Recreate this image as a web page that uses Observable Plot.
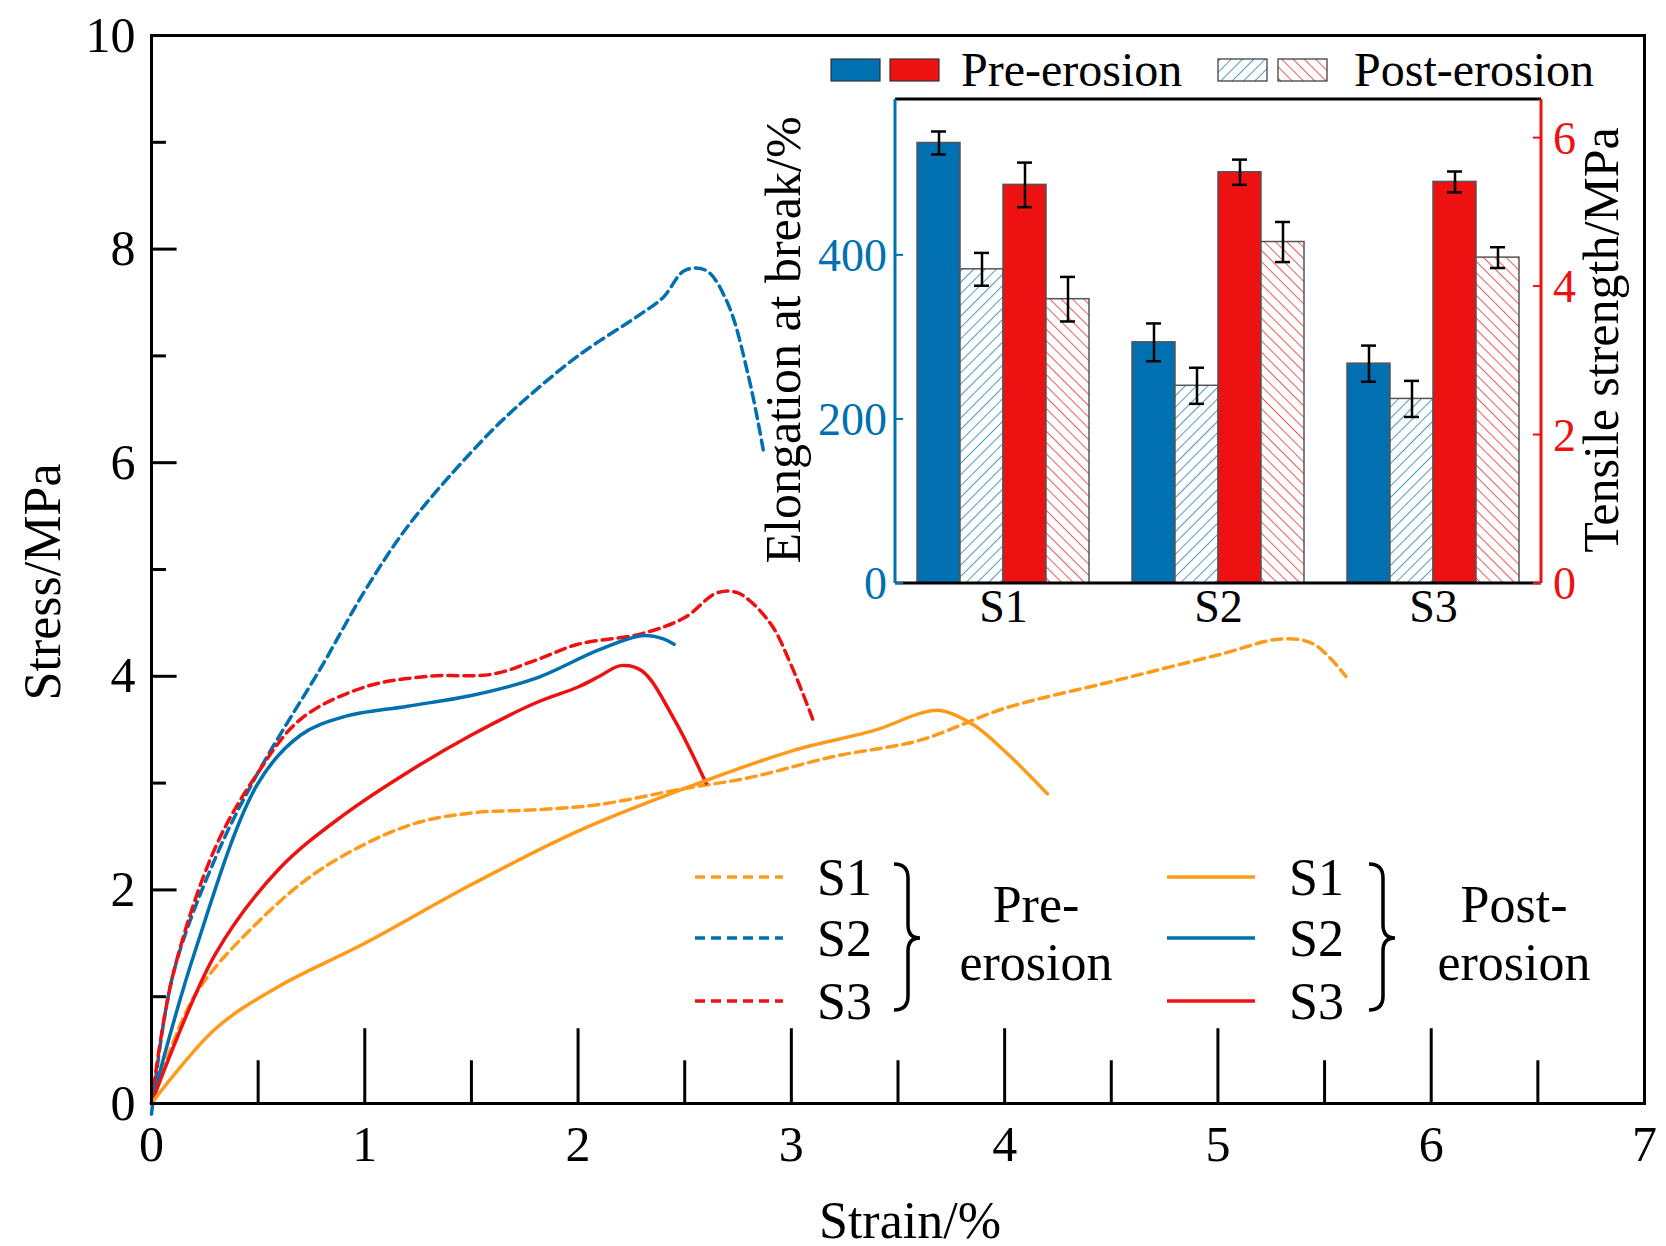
<!DOCTYPE html>
<html><head><meta charset="utf-8">
<script src="https://cdn.jsdelivr.net/npm/d3@7"></script>
<script src="https://cdn.jsdelivr.net/npm/@observablehq/plot@0.6"></script>
<style>
body{margin:0;background:#fff;}
#wrap{position:relative;width:1666px;height:1246px;font-family:"Liberation Serif",serif;}
#wrap > *{position:absolute;}
</style></head><body><div id="wrap"></div>
<script>
const BLUE="#0070b0", RED="#ee1111", ORANGE="#ff9a1a";
// stress-strain curves [strain %, stress MPa]
const preS1=[[0,0],[0.2,1.0],[0.5,1.7],[0.8,2.2],[1.2,2.6],[1.5,2.72],[1.8,2.75],[2.1,2.8],[2.5,2.95],[2.8,3.05],[3.2,3.25],[3.6,3.4],[4.0,3.7],[4.5,3.95],[5.0,4.2],[5.3,4.35],[5.45,4.3],[5.6,4.0]];
const preS2=[[0,-0.1],[0.1,1.2],[0.3,2.3],[0.5,3.1],[0.8,4.1],[1,4.8],[1.2,5.4],[1.5,6.1],[1.7,6.5],[2,7.0],[2.3,7.4],[2.4,7.55],[2.5,7.8],[2.6,7.8],[2.7,7.5],[2.8,6.8],[2.87,6.1]];
const preS3=[[0,0],[0.1,1.2],[0.3,2.4],[0.5,3.1],[0.7,3.6],[1,3.9],[1.3,4.0],[1.6,4.02],[1.8,4.15],[2,4.3],[2.3,4.4],[2.5,4.55],[2.65,4.78],[2.75,4.78],[2.9,4.5],[3.0,4.1],[3.1,3.6]];
const postS1=[[0,0],[0.3,0.7],[0.6,1.1],[1,1.5],[1.5,2.05],[2,2.55],[2.5,2.95],[3,3.3],[3.4,3.5],[3.6,3.65],[3.7,3.68],[3.85,3.55],[4.0,3.3],[4.2,2.9]];
const postS2=[[0,0],[0.2,1.4],[0.5,3.0],[0.7,3.45],[0.9,3.62],[1.2,3.72],[1.5,3.82],[1.8,3.98],[2.1,4.25],[2.3,4.38],[2.4,4.35],[2.45,4.3]];
const postS3=[[0,0],[0.3,1.4],[0.6,2.2],[0.9,2.7],[1.2,3.1],[1.5,3.45],[1.8,3.75],[2.0,3.9],[2.1,4.0],[2.2,4.1],[2.3,4.05],[2.45,3.6],[2.6,3.0]];
const xTicks=[0,1,2,3,4,5,6,7];
const yTicks=[0,2,4,6,8,10];
// inset bars
const samples=["S1","S2","S3"];
const elongPre=[537,294,268], elongPreErr=[14,23,22];
const elongPost=[383,241,225], elongPostErr=[20,22,22];
const tensPre=[5.37,5.54,5.41], tensPreErr=[0.3,0.17,0.14];
const tensPost=[3.83,4.60,4.39], tensPostErr=[0.3,0.27,0.14];
const elongTicks=[0,200,400], tensTicks=[0,2,4,6];

const wrap=document.getElementById("wrap");
const F='"Liberation Serif",serif';
const curves=[
 {d:preS2,c:BLUE,dash:"10,6"},{d:preS3,c:RED,dash:"10,6"},{d:preS1,c:ORANGE,dash:"10,6"},
 {d:postS2,c:BLUE,dash:null},{d:postS3,c:RED,dash:null},{d:postS1,c:ORANGE,dash:null}];
const main=Plot.plot({
 width:1666,height:1246,marginLeft:151,marginRight:22,marginTop:35,marginBottom:143,
 style:{fontFamily:F,fontSize:"50px",color:"#000",background:"transparent"},
 x:{domain:[0,7]},y:{domain:[0,10]},
 marks:[
  ...curves.map(c=>Plot.line(c.d,{x:d=>d[0],y:d=>d[1],stroke:c.c,strokeWidth:3.5,strokeDasharray:c.dash,curve:"catmull-rom"})),
  Plot.ruleX(d3.range(0,7.01,0.5),{x:d=>d,y1:0,y2:d=>d%1===0?0.7:0.4,stroke:"#000",strokeWidth:3}),
  Plot.ruleY(d3.range(0,10.01,1),{y:d=>d,x1:0,x2:d=>d%2===0?0.12:0.07,stroke:"#000",strokeWidth:3}),
  Plot.axisX({ticks:xTicks,tickSize:0,tickPadding:22,fontSize:50,label:null,tickFormat:d=>d}),
  Plot.axisY({ticks:yTicks,tickSize:0,tickPadding:16,fontSize:50,label:null,tickFormat:d=>d}),
  Plot.frame({stroke:"#000",strokeWidth:3})
 ]});
main.style.left="0px";main.style.top="0px";
wrap.appendChild(main);

// inset
const K=590/6.52;
const rows=[];
samples.forEach((s,i)=>{
 rows.push({s,k:"a",v:elongPre[i]/K,e:elongPreErr[i]/K,fill:BLUE});
 rows.push({s,k:"b",v:elongPost[i]/K,e:elongPostErr[i]/K,fill:"url(#hb)"});
 rows.push({s,k:"c",v:tensPre[i],e:tensPreErr[i],fill:RED});
 rows.push({s,k:"d",v:tensPost[i],e:tensPostErr[i],fill:"url(#hr)"});
});
const IL=895, IT=99, IW=1541-895, IH=583-99;
const inset=Plot.plot({
 width:IW,height:IH+70,marginLeft:0,marginRight:0,marginTop:0,marginBottom:70,
 style:{fontFamily:F,fontSize:"46px",background:"transparent",overflow:"visible"},
 fx:{domain:samples,paddingInner:0.2,paddingOuter:0.1,label:null,axis:null},
 x:{domain:["a","b","c","d"],padding:0,axis:null},
 y:{domain:[0,6.52],axis:null},
 marks:[
  Plot.barY(rows,{fx:"s",x:"k",y:"v",fill:"fill",stroke:"#555",strokeWidth:1.5}),
  Plot.ruleX(rows,{fx:"s",x:"k",y1:d=>d.v-d.e,y2:d=>d.v+d.e,stroke:"#000",strokeWidth:2.5}),
  Plot.tickY(rows.flatMap(d=>[{...d,y:d.v-d.e},{...d,y:d.v+d.e}]),{fx:"s",x:"k",y:"y",stroke:"#000",strokeWidth:2.5,inset:14}),
  Plot.text(samples,{fx:d=>d,frameAnchor:"bottom",dy:38,text:d=>d,fontSize:46,fill:"#000"})
 ]});
inset.style.left=IL+"px";inset.style.top=IT+"px";
wrap.appendChild(inset);
const mkPat=(defs,id,c,a)=>{
 const p=defs.append("pattern").attr("id",id).attr("patternUnits","userSpaceOnUse").attr("width",8).attr("height",8).attr("patternTransform",`rotate(${a})`);
 p.append("rect").attr("width",8).attr("height",8).attr("fill","#fff");
 p.append("line").attr("x1",0).attr("y1",0).attr("x2",0).attr("y2",8).attr("stroke",c).attr("stroke-width",1.4);
};
const defs=d3.select(inset).insert("defs",":first-child");
mkPat(defs,"hb",BLUE,45);mkPat(defs,"hr",RED,-45);
// inset axes via overlay svg
const ov=d3.select(wrap).append("svg").attr("width",1666).attr("height",1246).style("left","0px").style("top","0px").style("font-family",F);
const od=ov.append("defs");
mkPat(od,"hb2",BLUE,45);mkPat(od,"hr2",RED,-45);
const yl=d3.scaleLinear().domain([0,590]).range([583,99]);
const yr=d3.scaleLinear().domain([0,6.52]).range([583,99]);
ov.append("line").attr("x1",895).attr("x2",1541).attr("y1",99).attr("y2",99).attr("stroke","#000").attr("stroke-width",3);
ov.append("line").attr("x1",895).attr("x2",1541).attr("y1",583).attr("y2",583).attr("stroke","#000").attr("stroke-width",3);
ov.append("line").attr("x1",895).attr("x2",895).attr("y1",99).attr("y2",583).attr("stroke",BLUE).attr("stroke-width",3);
ov.append("line").attr("x1",1541).attr("x2",1541).attr("y1",99).attr("y2",583).attr("stroke",RED).attr("stroke-width",3);
elongTicks.forEach(t=>{
 ov.append("line").attr("x1",895).attr("x2",903).attr("y1",yl(t)).attr("y2",yl(t)).attr("stroke",BLUE).attr("stroke-width",2);
 ov.append("text").attr("x",887).attr("y",yl(t)).attr("dy","0.35em").attr("text-anchor","end").attr("font-size",46).attr("fill",BLUE).text(t);
});
tensTicks.forEach(t=>{
 ov.append("line").attr("x1",1533).attr("x2",1541).attr("y1",yr(t)).attr("y2",yr(t)).attr("stroke",RED).attr("stroke-width",2);
 ov.append("text").attr("x",1553).attr("y",yr(t)).attr("dy","0.35em").attr("font-size",46).attr("fill",RED).text(t);
});
const rot=(x,y,t,fs)=>ov.append("text").attr("transform",`translate(${x},${y}) rotate(-90)`).attr("text-anchor","middle").attr("font-size",fs).attr("fill","#000").text(t);
rot(800,340,"Elongation at break/%",50);
rot(1618,340,"Tensile strength/MPa",50);
rot(60,582,"Stress/MPa",52);
ov.append("text").attr("x",910).attr("y",1238).attr("text-anchor","middle").attr("font-size",52).text("Strain/%");
// inset legend
[[831,BLUE],[890,RED],[1218,"url(#hb2)"],[1278,"url(#hr2)"]].forEach(([x,c])=>ov.append("rect").attr("x",x).attr("y",59).attr("width",49).attr("height",22).attr("fill",c).attr("stroke","#333").attr("stroke-width",1.2));
ov.append("text").attr("x",961).attr("y",86).attr("font-size",48).text("Pre-erosion");
ov.append("text").attr("x",1354).attr("y",86).attr("font-size",48).text("Post-erosion");
// main legend
const legY=[877,938,1001], legLab=["S1","S2","S3"], legC=[ORANGE,BLUE,RED];
[[695,817,908,1036,"Pre-","erosion","10,6"],[1167,1289,1383,1514,"Post-","erosion",null]].forEach(([lx,tx,bx,cx,a,b,dash])=>{
 legY.forEach((y,i)=>{
  ov.append("line").attr("x1",lx).attr("x2",lx+88).attr("y1",y).attr("y2",y).attr("stroke",legC[i]).attr("stroke-width",3.5).attr("stroke-dasharray",dash);
  ov.append("text").attr("x",tx).attr("y",y).attr("dy","0.35em").attr("font-size",52).text(legLab[i]);
 });
 ov.append("path").attr("d",`M${bx-14},864 Q${bx},864 ${bx},878 L${bx},925 Q${bx},938 ${bx+12},938 Q${bx},938 ${bx},951 L${bx},996 Q${bx},1010 ${bx-14},1010`).attr("fill","none").attr("stroke","#000").attr("stroke-width",3.5);
 ov.append("text").attr("x",cx).attr("y",922).attr("text-anchor","middle").attr("font-size",52).text(a);
 ov.append("text").attr("x",cx).attr("y",980).attr("text-anchor","middle").attr("font-size",52).text(b);
});
</script></body></html>
